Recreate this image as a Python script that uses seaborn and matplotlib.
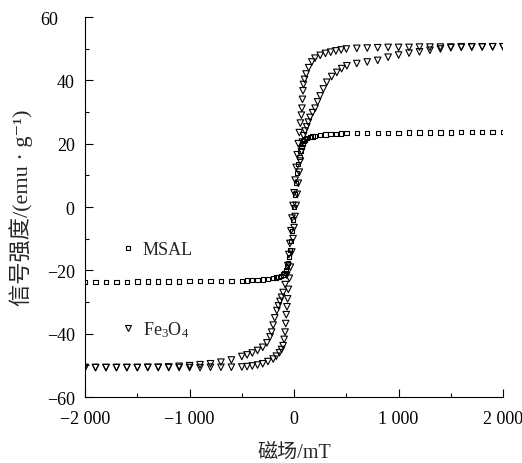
import matplotlib
matplotlib.use('Agg')
import matplotlib.pyplot as plt
import matplotlib.transforms as mtransforms
import seaborn as sns
import pandas as pd
from matplotlib.ticker import MultipleLocator, FixedLocator
from matplotlib.lines import Line2D

# ---------------- data ----------------
msal_field = [-2000, -1900, -1800, -1700, -1600, -1500, -1400, -1300, -1200, -1100,
              -1000, -900, -800, -700, -600, -500, -450, -400, -350, -300, -250,
              -200, -175, -150, -125, -100, -90, -80, -70, -60, -50, -40, -30, -20,
              -10, 0, 10, 20, 30, 40, 50, 60, 70, 80, 90, 100, 125, 150, 175, 200,
              250, 300, 350, 400, 450, 500, 600, 700, 800, 900, 1000, 1100, 1200,
              1300, 1400, 1500, 1600, 1700, 1800, 1900, 2000]
msal_moment = [-23.6, -23.6, -23.6, -23.6, -23.6, -23.5, -23.5, -23.5, -23.5, -23.5,
               -23.4, -23.4, -23.4, -23.4, -23.3, -23.3, -23.2, -23.1, -23.0, -22.9, -22.7,
               -22.5, -22.3, -22.1, -21.8, -21.3, -20.8, -20.0, -19.0, -17.6, -15.8, -13.5,
               -10.7, -7.5, -3.9, 0.0, 3.9, 7.5, 10.7, 13.5, 15.8, 17.6, 19.0, 20.0, 20.8,
               21.3, 21.8, 22.1, 22.3, 22.5, 22.7, 22.9, 23.0, 23.1, 23.2, 23.3, 23.3,
               23.4, 23.4, 23.4, 23.4, 23.5, 23.5, 23.5, 23.5, 23.5, 23.6, 23.6, 23.6,
               23.6, 23.6]

fe_desc_field = [2000, 1900, 1800, 1700, 1600, 1500, 1400, 1300, 1200, 1100, 1000, 900,
                 800, 700, 600, 500, 450, 400, 350, 300, 250, 200, 170, 140, 115, 100,
                 90, 85, 80, 75, 70, 60, 50, 40, 30, 20, 10, 0, -10, -20, -30, -40, -50,
                 -60, -70, -85, -105, -120, -135, -150, -165, -185, -200, -215, -230,
                 -260, -300, -350, -400, -450, -500, -600, -700, -800, -900, -1000,
                 -1100, -1200, -1300, -1400, -1500, -1600, -1700, -1800, -1900, -2000]
fe_desc_moment = [50.6, 50.6, 50.6, 50.6, 50.6, 50.5, 50.5, 50.5, 50.5, 50.4, 50.4, 50.4,
                  50.3, 50.2, 50.1, 49.9, 49.6, 49.3, 48.9, 48.5, 47.9, 47.0, 45.8, 44.0,
                  42.0, 40.3, 38.7, 36.7, 34.0, 31.2, 29.0, 26.5, 23.5, 20.0, 16.5, 12.5,
                  8.5, 4.5, 0.5, -3.5, -7.5, -11.5, -15.0, -18.5, -21.5, -24.5, -27.0,
                  -28.5, -29.8, -31.2, -32.7, -35.0, -37.3, -39.5, -41.0, -42.9, -44.3,
                  -45.3, -46.1, -46.7, -47.2, -48.3, -49.0, -49.5, -49.8, -50.1, -50.3,
                  -50.5, -50.6, -50.6, -50.7, -50.7, -50.7, -50.7, -50.7, -50.7]

fe_asc_field = [-2000, -1900, -1800, -1700, -1600, -1500, -1400, -1300, -1200, -1100,
                -1000, -900, -800, -700, -600, -500, -450, -400, -350, -300, -250, -200,
                -170, -140, -120, -105, -95, -86, -80, -75, -68, -62, -55, -45, -35, -22,
                -10, 0, 10, 20, 30, 40, 50, 60, 70, 80, 90, 105, 121, 137, 153, 177, 201,
                225, 249, 280, 313, 360, 409, 455, 505, 600, 700, 800, 900, 1000, 1100,
                1200, 1300, 1400, 1500, 1600, 1700, 1800, 1900, 2000]
fe_asc_moment = [-50.7, -50.7, -50.7, -50.7, -50.7, -50.7, -50.7, -50.7, -50.7, -50.7,
                 -50.7, -50.7, -50.6, -50.6, -50.6, -50.5, -50.4, -50.2, -49.9, -49.5,
                 -48.8, -48.0, -47.1, -46.0, -45.0, -43.8, -41.8, -39.5, -36.8, -34.0,
                 -31.5, -29.0, -26.0, -22.5, -19.0, -14.2, -10.0, -6.5, -3.0, 0.5, 4.0,
                 7.5, 11.0, 14.5, 17.5, 20.5, 22.5, 24.0, 25.3, 26.8, 28.3, 29.8, 31.2,
                 33.2, 35.1, 37.3, 39.4, 41.2, 42.5, 43.7, 44.6, 45.3, 45.8, 46.3, 47.3,
                 48.0, 48.6, 49.0, 49.5, 49.9, 50.3, 50.4, 50.5, 50.5, 50.6, 50.6]

series_labels = ['MSAL', r'Fe$_\mathregular{3}$O$_\mathregular{4}$']
x_ticks = [-2000, -1000, 0, 1000, 2000]
x_tick_labels = ['\u22122 000', '\u22121 000', '0', '1 000', '2 000']
y_ticks = [-60, -40, -20, 0, 20, 40, 60]
y_tick_labels = ['\u221260', '\u221240', '\u221220', '0', '20', '40', '60']
x_label = '磁场/mT'
y_label = '信号强度/(emu · g\u207b\u00b9)'

# ---------------- style ----------------
sns.set_style('ticks')
plt.rcParams['font.family'] = ['Liberation Serif', 'Noto Sans CJK SC', 'DejaVu Sans']
plt.rcParams['mathtext.fontset'] = 'custom'
plt.rcParams['mathtext.rm'] = 'Liberation Serif'
plt.rcParams['mathtext.it'] = 'Liberation Serif:italic'
plt.rcParams['axes.unicode_minus'] = True

fig = plt.figure(figsize=(5.22, 4.64), dpi=100)
ax = fig.add_axes([0.163, 0.1422, 0.8008, 0.8190])

msal_df = pd.DataFrame({'field': msal_field, 'moment': msal_moment})
fe_df1 = pd.DataFrame({'field': fe_desc_field, 'moment': fe_desc_moment})
fe_df2 = pd.DataFrame({'field': fe_asc_field, 'moment': fe_asc_moment})

common = dict(color='none', edgecolor='black', linewidth=0.8, ax=ax, legend=False)
sns.scatterplot(data=fe_df1, x='field', y='moment', marker='v', s=22, **common)
sns.scatterplot(data=fe_df2, x='field', y='moment', marker='v', s=22, **common)
sns.scatterplot(data=msal_df, x='field', y='moment', marker='s', s=10, **common)

ax.set_xlim(-2000, 2000)
ax.set_ylim(-60, 60)
ax.xaxis.set_major_locator(FixedLocator(x_ticks))
ax.set_xticklabels(x_tick_labels)
ax.yaxis.set_major_locator(FixedLocator(y_ticks))
ax.set_yticklabels(y_tick_labels)
ax.xaxis.set_minor_locator(MultipleLocator(500))
ax.yaxis.set_minor_locator(MultipleLocator(10))
ax.tick_params(axis='both', which='major', direction='in', length=5.5, width=0.8,
               labelsize=13, color='black', labelcolor='black')
ax.tick_params(axis='both', which='minor', direction='in', length=3, width=0.8, color='black')
ax.tick_params(axis='x', which='major', pad=9)
ax.tick_params(axis='y', which='major', pad=7.5)

# the top "60" label sits further left in the reference
top_lbl = ax.get_yticklabels()[-1]
top_lbl.set_transform(top_lbl.get_transform() +
                      mtransforms.ScaledTranslation(-17 / 100, 0, fig.dpi_scale_trans))

for side in ['top', 'right']:
    ax.spines[side].set_visible(False)
for side in ['left', 'bottom']:
    ax.spines[side].set_linewidth(0.8)
    ax.spines[side].set_color('black')

ax.set_xlabel(x_label, fontsize=14.5, labelpad=12)
ax.set_ylabel(y_label, fontsize=16, labelpad=5)

handles = [Line2D([], [], linestyle='', marker='s', markersize=3.2, markerfacecolor='none',
                  markeredgecolor='black', markeredgewidth=0.8),
           Line2D([], [], linestyle='', marker='v', markersize=4.7, markerfacecolor='none',
                  markeredgecolor='black', markeredgewidth=0.8)]
ax.legend(handles, series_labels, loc='upper left', bbox_to_anchor=(0.082, 0.41),
          frameon=False, fontsize=13, handlelength=1.0, handletextpad=0.3,
          labelspacing=3.4, borderpad=0, borderaxespad=0)

fig.savefig('out.png', dpi=100)
